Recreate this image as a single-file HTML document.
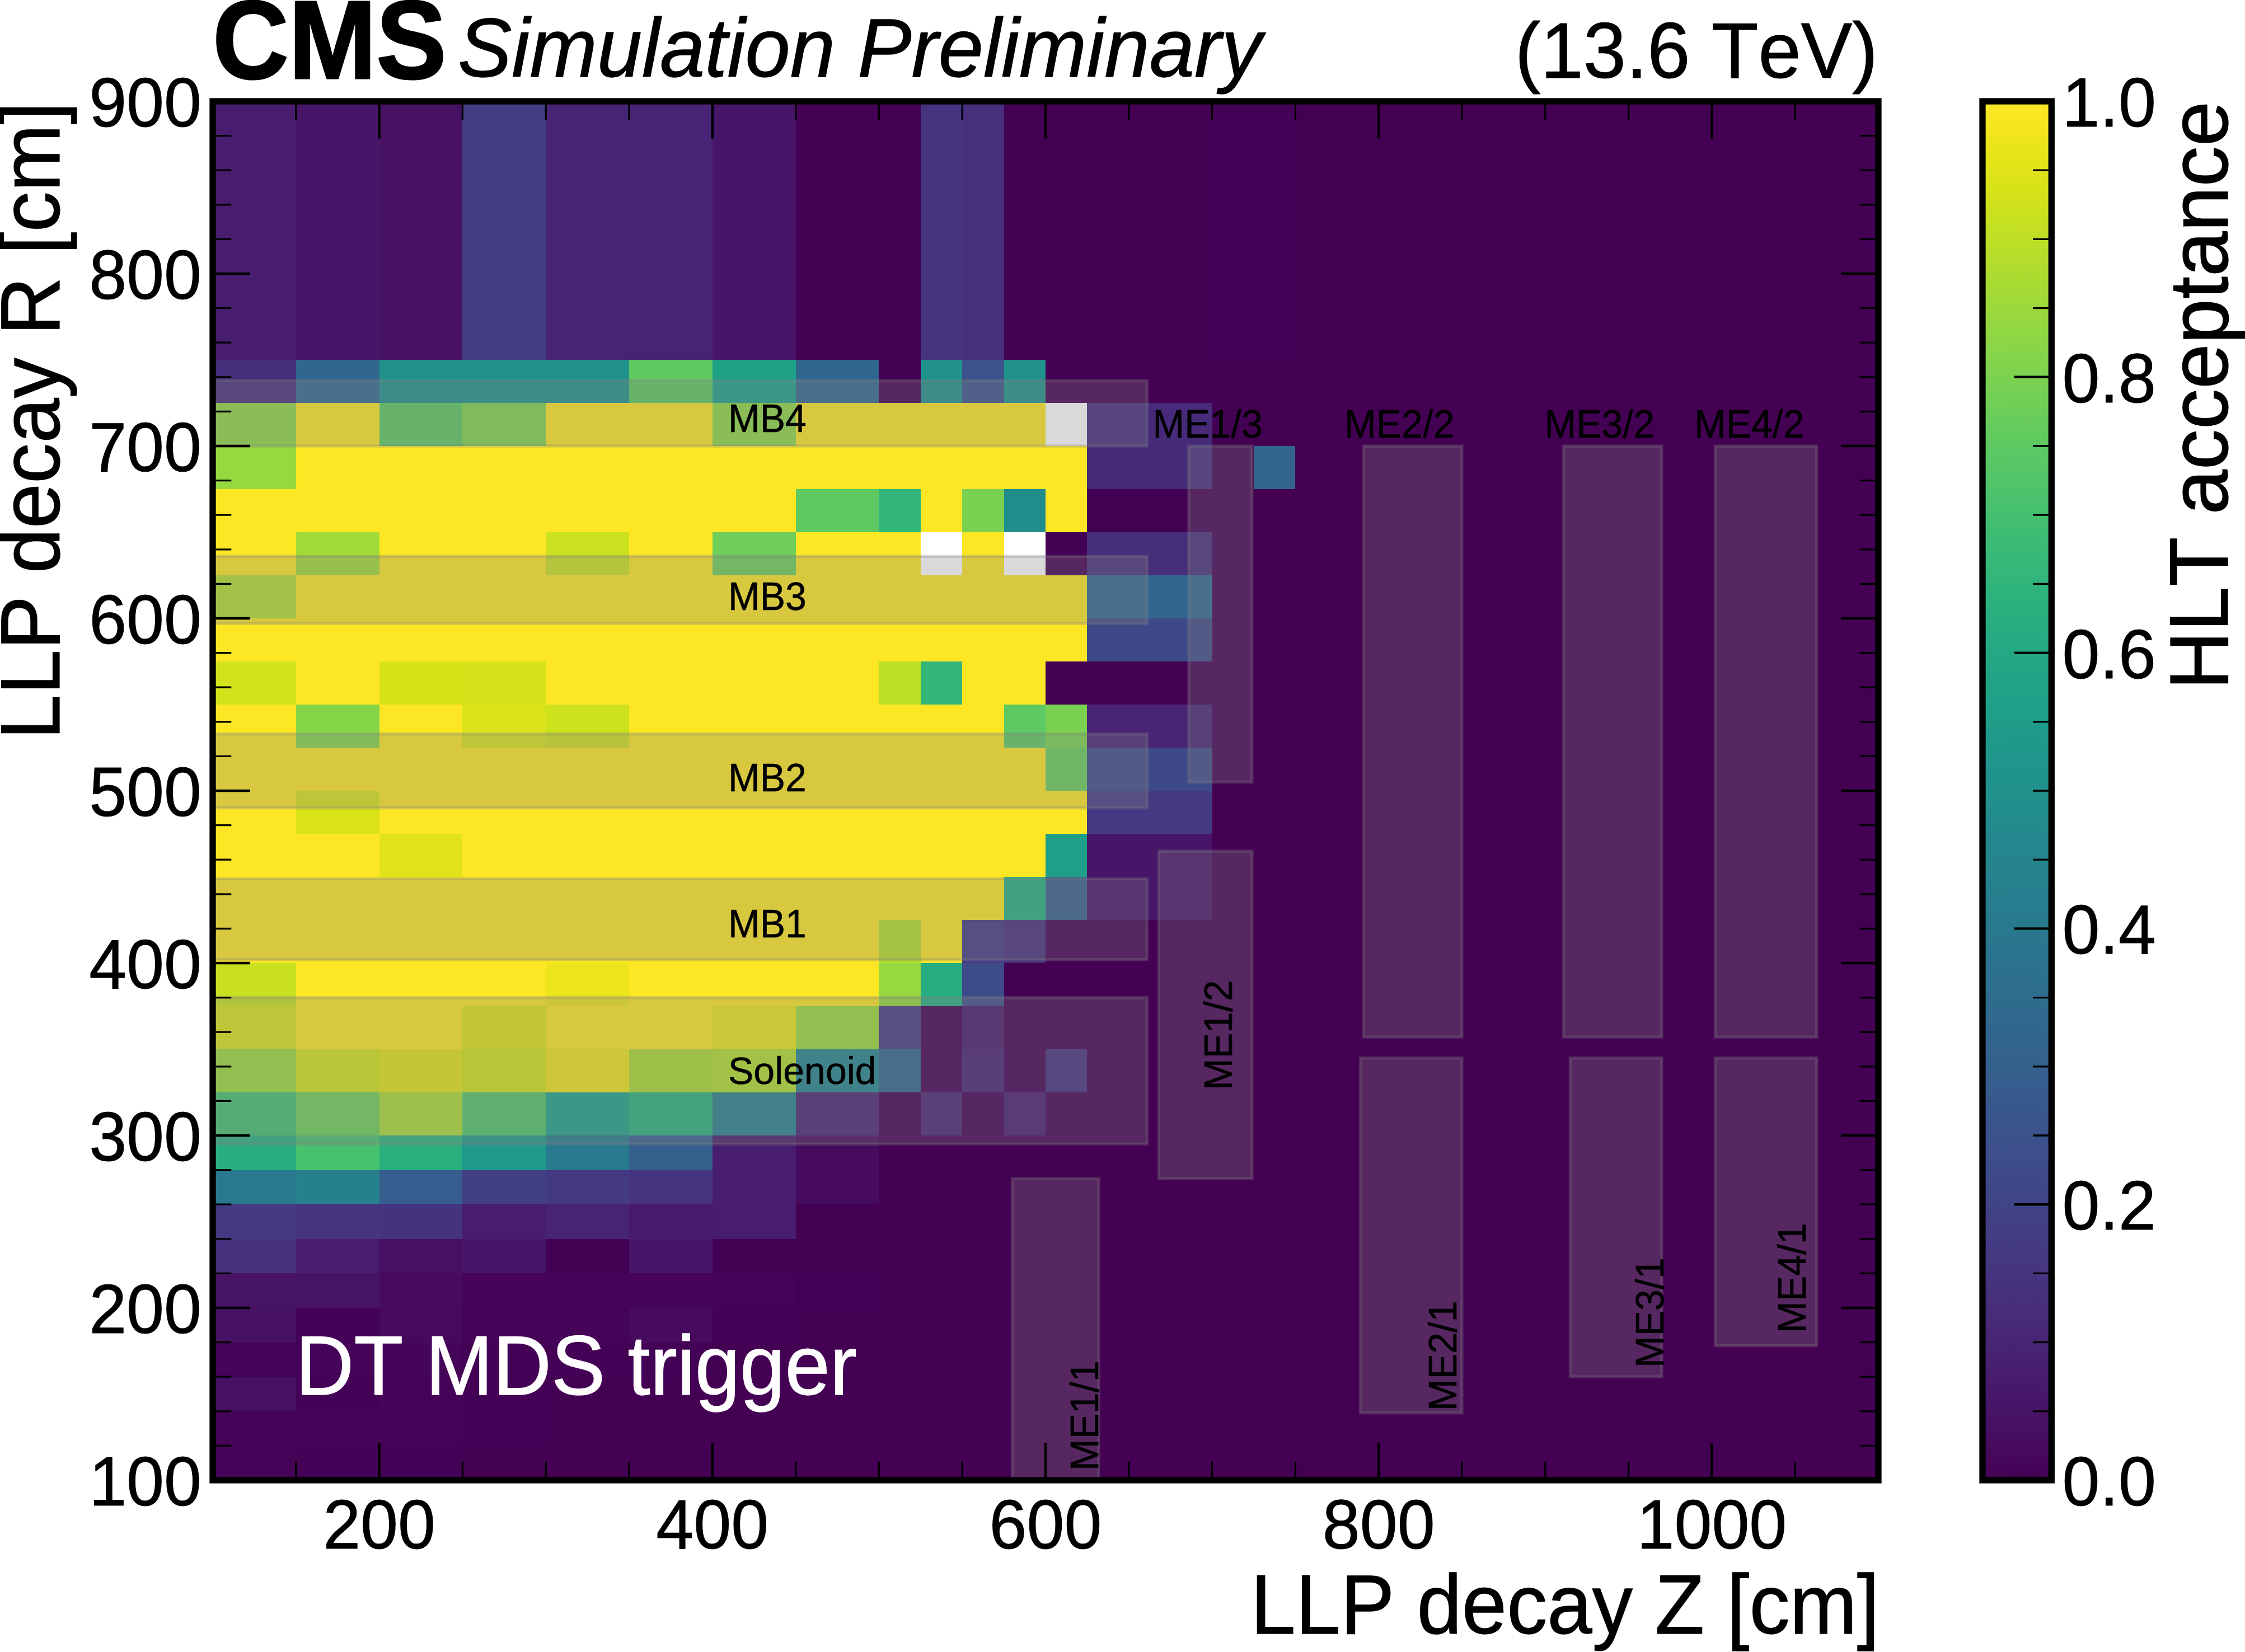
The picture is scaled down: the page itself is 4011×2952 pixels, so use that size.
<!DOCTYPE html><html><head><meta charset="utf-8"><title>chart</title><style>html,body{margin:0;padding:0;background:#fff}svg{display:block}text{font-family:"Liberation Sans",sans-serif;fill:#000;stroke:#000;stroke-linejoin:round;font-kerning:none}</style></head><body>
<svg width="4011" height="2952" viewBox="0 0 4011 2952">
<defs><clipPath id="ax"><rect x="380" y="181" width="2976" height="2464"/></clipPath>
<linearGradient id="cb" x1="0" y1="0" x2="0" y2="1"><stop offset="0.0000" stop-color="#fde725"/><stop offset="0.0156" stop-color="#f6e620"/><stop offset="0.0312" stop-color="#ece51b"/><stop offset="0.0469" stop-color="#e2e418"/><stop offset="0.0625" stop-color="#d8e219"/><stop offset="0.0781" stop-color="#cde11d"/><stop offset="0.0938" stop-color="#c2df23"/><stop offset="0.1094" stop-color="#b8de29"/><stop offset="0.1250" stop-color="#addc30"/><stop offset="0.1406" stop-color="#a2da37"/><stop offset="0.1562" stop-color="#98d83e"/><stop offset="0.1719" stop-color="#8ed645"/><stop offset="0.1875" stop-color="#84d44b"/><stop offset="0.2031" stop-color="#7ad151"/><stop offset="0.2188" stop-color="#70cf57"/><stop offset="0.2344" stop-color="#67cc5c"/><stop offset="0.2500" stop-color="#5ec962"/><stop offset="0.2656" stop-color="#56c667"/><stop offset="0.2812" stop-color="#4ec36b"/><stop offset="0.2969" stop-color="#46c06f"/><stop offset="0.3125" stop-color="#3fbc73"/><stop offset="0.3281" stop-color="#38b977"/><stop offset="0.3438" stop-color="#32b67a"/><stop offset="0.3594" stop-color="#2db27d"/><stop offset="0.3750" stop-color="#28ae80"/><stop offset="0.3906" stop-color="#25ab82"/><stop offset="0.4062" stop-color="#22a785"/><stop offset="0.4219" stop-color="#20a386"/><stop offset="0.4375" stop-color="#1fa088"/><stop offset="0.4531" stop-color="#1e9c89"/><stop offset="0.4688" stop-color="#1f988b"/><stop offset="0.4844" stop-color="#1f948c"/><stop offset="0.5000" stop-color="#21918c"/><stop offset="0.5156" stop-color="#228d8d"/><stop offset="0.5312" stop-color="#23898e"/><stop offset="0.5469" stop-color="#25858e"/><stop offset="0.5625" stop-color="#26828e"/><stop offset="0.5781" stop-color="#277e8e"/><stop offset="0.5938" stop-color="#297a8e"/><stop offset="0.6094" stop-color="#2a768e"/><stop offset="0.6250" stop-color="#2c728e"/><stop offset="0.6406" stop-color="#2e6f8e"/><stop offset="0.6562" stop-color="#2f6b8e"/><stop offset="0.6719" stop-color="#31678e"/><stop offset="0.6875" stop-color="#33638d"/><stop offset="0.7031" stop-color="#355f8d"/><stop offset="0.7188" stop-color="#375b8d"/><stop offset="0.7344" stop-color="#39568c"/><stop offset="0.7500" stop-color="#3b528b"/><stop offset="0.7656" stop-color="#3d4e8a"/><stop offset="0.7812" stop-color="#3e4989"/><stop offset="0.7969" stop-color="#404588"/><stop offset="0.8125" stop-color="#424086"/><stop offset="0.8281" stop-color="#443b84"/><stop offset="0.8438" stop-color="#453781"/><stop offset="0.8594" stop-color="#46327e"/><stop offset="0.8750" stop-color="#472d7b"/><stop offset="0.8906" stop-color="#482878"/><stop offset="0.9062" stop-color="#482374"/><stop offset="0.9219" stop-color="#481d6f"/><stop offset="0.9375" stop-color="#48186a"/><stop offset="0.9531" stop-color="#471365"/><stop offset="0.9688" stop-color="#470d60"/><stop offset="0.9844" stop-color="#46075a"/><stop offset="1.0000" stop-color="#440154"/></linearGradient></defs>
<rect width="4011" height="2952" fill="#fff"/>
<g clip-path="url(#ax)" shape-rendering="crispEdges">
<rect x="380" y="181" width="2976" height="2464" fill="#440154"/>
<rect x="380.0" y="181.0" width="148.8" height="462.0" fill="#481d6f"/>
<rect x="528.8" y="181.0" width="148.8" height="462.0" fill="#481668"/>
<rect x="677.6" y="181.0" width="148.8" height="462.0" fill="#471164"/>
<rect x="826.4" y="181.0" width="148.8" height="462.0" fill="#433e85"/>
<rect x="975.2" y="181.0" width="148.8" height="462.0" fill="#482475"/>
<rect x="1124.0" y="181.0" width="148.8" height="462.0" fill="#482475"/>
<rect x="1272.8" y="181.0" width="148.8" height="462.0" fill="#481668"/>
<rect x="1644.8" y="181.0" width="74.4" height="462.0" fill="#463480"/>
<rect x="1719.2" y="181.0" width="74.4" height="462.0" fill="#472f7d"/>
<rect x="2165.6" y="181.0" width="74.4" height="462.0" fill="#440256"/>
<rect x="2240.0" y="181.0" width="74.4" height="462.0" fill="#440256"/>
<rect x="380.0" y="643.0" width="148.8" height="77.0" fill="#472e7c"/>
<rect x="528.8" y="643.0" width="148.8" height="77.0" fill="#31678e"/>
<rect x="677.6" y="643.0" width="148.8" height="77.0" fill="#21918c"/>
<rect x="826.4" y="643.0" width="148.8" height="77.0" fill="#21918c"/>
<rect x="975.2" y="643.0" width="148.8" height="77.0" fill="#21918c"/>
<rect x="1124.0" y="643.0" width="148.8" height="77.0" fill="#5ec962"/>
<rect x="1272.8" y="643.0" width="148.8" height="77.0" fill="#1fa188"/>
<rect x="1421.6" y="643.0" width="148.8" height="77.0" fill="#31678e"/>
<rect x="1644.8" y="643.0" width="74.4" height="77.0" fill="#21918c"/>
<rect x="1719.2" y="643.0" width="74.4" height="77.0" fill="#3b528b"/>
<rect x="1793.6" y="643.0" width="74.4" height="77.0" fill="#21918c"/>
<rect x="380.0" y="720.0" width="148.8" height="77.0" fill="#8ed645"/>
<rect x="528.8" y="720.0" width="148.8" height="77.0" fill="#fde725"/>
<rect x="677.6" y="720.0" width="148.8" height="77.0" fill="#5ec962"/>
<rect x="826.4" y="720.0" width="148.8" height="77.0" fill="#81d34d"/>
<rect x="975.2" y="720.0" width="148.8" height="77.0" fill="#fde725"/>
<rect x="1124.0" y="720.0" width="148.8" height="77.0" fill="#fde725"/>
<rect x="1272.8" y="720.0" width="148.8" height="77.0" fill="#8ed645"/>
<rect x="1421.6" y="720.0" width="148.8" height="77.0" fill="#fde725"/>
<rect x="1570.4" y="720.0" width="74.4" height="77.0" fill="#fde725"/>
<rect x="1644.8" y="720.0" width="74.4" height="77.0" fill="#fde725"/>
<rect x="1719.2" y="720.0" width="74.4" height="77.0" fill="#fde725"/>
<rect x="1793.6" y="720.0" width="74.4" height="77.0" fill="#fde725"/>
<rect x="1868.0" y="720.0" width="74.4" height="77.0" fill="#ffffff"/>
<rect x="1942.4" y="720.0" width="223.2" height="77.0" fill="#472a7a"/>
<rect x="380.0" y="797.0" width="148.8" height="77.0" fill="#95d840"/>
<rect x="528.8" y="797.0" width="148.8" height="77.0" fill="#fde725"/>
<rect x="677.6" y="797.0" width="148.8" height="77.0" fill="#fde725"/>
<rect x="826.4" y="797.0" width="148.8" height="77.0" fill="#fde725"/>
<rect x="975.2" y="797.0" width="148.8" height="77.0" fill="#fde725"/>
<rect x="1124.0" y="797.0" width="148.8" height="77.0" fill="#fde725"/>
<rect x="1272.8" y="797.0" width="148.8" height="77.0" fill="#fde725"/>
<rect x="1421.6" y="797.0" width="148.8" height="77.0" fill="#fde725"/>
<rect x="1570.4" y="797.0" width="74.4" height="77.0" fill="#fde725"/>
<rect x="1644.8" y="797.0" width="74.4" height="77.0" fill="#fde725"/>
<rect x="1719.2" y="797.0" width="74.4" height="77.0" fill="#fde725"/>
<rect x="1793.6" y="797.0" width="74.4" height="77.0" fill="#fde725"/>
<rect x="1868.0" y="797.0" width="74.4" height="77.0" fill="#fde725"/>
<rect x="1942.4" y="797.0" width="223.2" height="77.0" fill="#472a7a"/>
<rect x="2240.0" y="797.0" width="74.4" height="77.0" fill="#32648e"/>
<rect x="380.0" y="874.0" width="148.8" height="77.0" fill="#fde725"/>
<rect x="528.8" y="874.0" width="148.8" height="77.0" fill="#fde725"/>
<rect x="677.6" y="874.0" width="148.8" height="77.0" fill="#fde725"/>
<rect x="826.4" y="874.0" width="148.8" height="77.0" fill="#fde725"/>
<rect x="975.2" y="874.0" width="148.8" height="77.0" fill="#fde725"/>
<rect x="1124.0" y="874.0" width="148.8" height="77.0" fill="#fde725"/>
<rect x="1272.8" y="874.0" width="148.8" height="77.0" fill="#fde725"/>
<rect x="1421.6" y="874.0" width="148.8" height="77.0" fill="#5ec962"/>
<rect x="1570.4" y="874.0" width="74.4" height="77.0" fill="#32b67a"/>
<rect x="1644.8" y="874.0" width="74.4" height="77.0" fill="#fde725"/>
<rect x="1719.2" y="874.0" width="74.4" height="77.0" fill="#7ad151"/>
<rect x="1793.6" y="874.0" width="74.4" height="77.0" fill="#218e8d"/>
<rect x="1868.0" y="874.0" width="74.4" height="77.0" fill="#fde725"/>
<rect x="380.0" y="951.0" width="148.8" height="77.0" fill="#fde725"/>
<rect x="528.8" y="951.0" width="148.8" height="77.0" fill="#a2da37"/>
<rect x="677.6" y="951.0" width="148.8" height="77.0" fill="#fde725"/>
<rect x="826.4" y="951.0" width="148.8" height="77.0" fill="#fde725"/>
<rect x="975.2" y="951.0" width="148.8" height="77.0" fill="#cae11f"/>
<rect x="1124.0" y="951.0" width="148.8" height="77.0" fill="#fde725"/>
<rect x="1272.8" y="951.0" width="148.8" height="77.0" fill="#6ece58"/>
<rect x="1421.6" y="951.0" width="148.8" height="77.0" fill="#fde725"/>
<rect x="1570.4" y="951.0" width="74.4" height="77.0" fill="#fde725"/>
<rect x="1644.8" y="951.0" width="74.4" height="77.0" fill="#ffffff"/>
<rect x="1719.2" y="951.0" width="74.4" height="77.0" fill="#fde725"/>
<rect x="1793.6" y="951.0" width="74.4" height="77.0" fill="#ffffff"/>
<rect x="1942.4" y="951.0" width="223.2" height="77.0" fill="#472e7c"/>
<rect x="380.0" y="1028.0" width="148.8" height="77.0" fill="#b0dd2f"/>
<rect x="528.8" y="1028.0" width="148.8" height="77.0" fill="#fde725"/>
<rect x="677.6" y="1028.0" width="148.8" height="77.0" fill="#fde725"/>
<rect x="826.4" y="1028.0" width="148.8" height="77.0" fill="#fde725"/>
<rect x="975.2" y="1028.0" width="148.8" height="77.0" fill="#fde725"/>
<rect x="1124.0" y="1028.0" width="148.8" height="77.0" fill="#fde725"/>
<rect x="1272.8" y="1028.0" width="148.8" height="77.0" fill="#fde725"/>
<rect x="1421.6" y="1028.0" width="148.8" height="77.0" fill="#fde725"/>
<rect x="1570.4" y="1028.0" width="74.4" height="77.0" fill="#fde725"/>
<rect x="1644.8" y="1028.0" width="74.4" height="77.0" fill="#fde725"/>
<rect x="1719.2" y="1028.0" width="74.4" height="77.0" fill="#fde725"/>
<rect x="1793.6" y="1028.0" width="74.4" height="77.0" fill="#fde725"/>
<rect x="1868.0" y="1028.0" width="74.4" height="77.0" fill="#fde725"/>
<rect x="1942.4" y="1028.0" width="223.2" height="77.0" fill="#31678e"/>
<rect x="380.0" y="1105.0" width="148.8" height="77.0" fill="#fde725"/>
<rect x="528.8" y="1105.0" width="148.8" height="77.0" fill="#fde725"/>
<rect x="677.6" y="1105.0" width="148.8" height="77.0" fill="#fde725"/>
<rect x="826.4" y="1105.0" width="148.8" height="77.0" fill="#fde725"/>
<rect x="975.2" y="1105.0" width="148.8" height="77.0" fill="#fde725"/>
<rect x="1124.0" y="1105.0" width="148.8" height="77.0" fill="#fde725"/>
<rect x="1272.8" y="1105.0" width="148.8" height="77.0" fill="#fde725"/>
<rect x="1421.6" y="1105.0" width="148.8" height="77.0" fill="#fde725"/>
<rect x="1570.4" y="1105.0" width="74.4" height="77.0" fill="#fde725"/>
<rect x="1644.8" y="1105.0" width="74.4" height="77.0" fill="#fde725"/>
<rect x="1719.2" y="1105.0" width="74.4" height="77.0" fill="#fde725"/>
<rect x="1793.6" y="1105.0" width="74.4" height="77.0" fill="#fde725"/>
<rect x="1868.0" y="1105.0" width="74.4" height="77.0" fill="#fde725"/>
<rect x="1942.4" y="1105.0" width="223.2" height="77.0" fill="#3e4989"/>
<rect x="380.0" y="1182.0" width="148.8" height="77.0" fill="#d2e21b"/>
<rect x="528.8" y="1182.0" width="148.8" height="77.0" fill="#fde725"/>
<rect x="677.6" y="1182.0" width="148.8" height="77.0" fill="#d8e219"/>
<rect x="826.4" y="1182.0" width="148.8" height="77.0" fill="#d5e21a"/>
<rect x="975.2" y="1182.0" width="148.8" height="77.0" fill="#fde725"/>
<rect x="1124.0" y="1182.0" width="148.8" height="77.0" fill="#fde725"/>
<rect x="1272.8" y="1182.0" width="148.8" height="77.0" fill="#fde725"/>
<rect x="1421.6" y="1182.0" width="148.8" height="77.0" fill="#fde725"/>
<rect x="1570.4" y="1182.0" width="74.4" height="77.0" fill="#bddf26"/>
<rect x="1644.8" y="1182.0" width="74.4" height="77.0" fill="#32b67a"/>
<rect x="1719.2" y="1182.0" width="74.4" height="77.0" fill="#fde725"/>
<rect x="1793.6" y="1182.0" width="74.4" height="77.0" fill="#fde725"/>
<rect x="380.0" y="1259.0" width="148.8" height="77.0" fill="#fde725"/>
<rect x="528.8" y="1259.0" width="148.8" height="77.0" fill="#86d549"/>
<rect x="677.6" y="1259.0" width="148.8" height="77.0" fill="#fde725"/>
<rect x="826.4" y="1259.0" width="148.8" height="77.0" fill="#dae319"/>
<rect x="975.2" y="1259.0" width="148.8" height="77.0" fill="#cde11d"/>
<rect x="1124.0" y="1259.0" width="148.8" height="77.0" fill="#fde725"/>
<rect x="1272.8" y="1259.0" width="148.8" height="77.0" fill="#fde725"/>
<rect x="1421.6" y="1259.0" width="148.8" height="77.0" fill="#fde725"/>
<rect x="1570.4" y="1259.0" width="74.4" height="77.0" fill="#fde725"/>
<rect x="1644.8" y="1259.0" width="74.4" height="77.0" fill="#fde725"/>
<rect x="1719.2" y="1259.0" width="74.4" height="77.0" fill="#fde725"/>
<rect x="1793.6" y="1259.0" width="74.4" height="77.0" fill="#5ec962"/>
<rect x="1868.0" y="1259.0" width="74.4" height="77.0" fill="#7ad151"/>
<rect x="1942.4" y="1259.0" width="223.2" height="77.0" fill="#482475"/>
<rect x="380.0" y="1336.0" width="148.8" height="77.0" fill="#fde725"/>
<rect x="528.8" y="1336.0" width="148.8" height="77.0" fill="#fde725"/>
<rect x="677.6" y="1336.0" width="148.8" height="77.0" fill="#fde725"/>
<rect x="826.4" y="1336.0" width="148.8" height="77.0" fill="#fde725"/>
<rect x="975.2" y="1336.0" width="148.8" height="77.0" fill="#fde725"/>
<rect x="1124.0" y="1336.0" width="148.8" height="77.0" fill="#fde725"/>
<rect x="1272.8" y="1336.0" width="148.8" height="77.0" fill="#fde725"/>
<rect x="1421.6" y="1336.0" width="148.8" height="77.0" fill="#fde725"/>
<rect x="1570.4" y="1336.0" width="74.4" height="77.0" fill="#fde725"/>
<rect x="1644.8" y="1336.0" width="74.4" height="77.0" fill="#fde725"/>
<rect x="1719.2" y="1336.0" width="74.4" height="77.0" fill="#fde725"/>
<rect x="1793.6" y="1336.0" width="74.4" height="77.0" fill="#fde725"/>
<rect x="1868.0" y="1336.0" width="74.4" height="77.0" fill="#69cd5b"/>
<rect x="1942.4" y="1336.0" width="223.2" height="77.0" fill="#3e4989"/>
<rect x="380.0" y="1413.0" width="148.8" height="77.0" fill="#fde725"/>
<rect x="528.8" y="1413.0" width="148.8" height="77.0" fill="#dae319"/>
<rect x="677.6" y="1413.0" width="148.8" height="77.0" fill="#fde725"/>
<rect x="826.4" y="1413.0" width="148.8" height="77.0" fill="#fde725"/>
<rect x="975.2" y="1413.0" width="148.8" height="77.0" fill="#fde725"/>
<rect x="1124.0" y="1413.0" width="148.8" height="77.0" fill="#fde725"/>
<rect x="1272.8" y="1413.0" width="148.8" height="77.0" fill="#fde725"/>
<rect x="1421.6" y="1413.0" width="148.8" height="77.0" fill="#fde725"/>
<rect x="1570.4" y="1413.0" width="74.4" height="77.0" fill="#fde725"/>
<rect x="1644.8" y="1413.0" width="74.4" height="77.0" fill="#fde725"/>
<rect x="1719.2" y="1413.0" width="74.4" height="77.0" fill="#fde725"/>
<rect x="1793.6" y="1413.0" width="74.4" height="77.0" fill="#fde725"/>
<rect x="1868.0" y="1413.0" width="74.4" height="77.0" fill="#fde725"/>
<rect x="1942.4" y="1413.0" width="223.2" height="77.0" fill="#443a83"/>
<rect x="380.0" y="1490.0" width="148.8" height="77.0" fill="#fde725"/>
<rect x="528.8" y="1490.0" width="148.8" height="77.0" fill="#fde725"/>
<rect x="677.6" y="1490.0" width="148.8" height="77.0" fill="#dfe318"/>
<rect x="826.4" y="1490.0" width="148.8" height="77.0" fill="#fde725"/>
<rect x="975.2" y="1490.0" width="148.8" height="77.0" fill="#fde725"/>
<rect x="1124.0" y="1490.0" width="148.8" height="77.0" fill="#fde725"/>
<rect x="1272.8" y="1490.0" width="148.8" height="77.0" fill="#fde725"/>
<rect x="1421.6" y="1490.0" width="148.8" height="77.0" fill="#fde725"/>
<rect x="1570.4" y="1490.0" width="74.4" height="77.0" fill="#fde725"/>
<rect x="1644.8" y="1490.0" width="74.4" height="77.0" fill="#fde725"/>
<rect x="1719.2" y="1490.0" width="74.4" height="77.0" fill="#fde725"/>
<rect x="1793.6" y="1490.0" width="74.4" height="77.0" fill="#fde725"/>
<rect x="1868.0" y="1490.0" width="74.4" height="77.0" fill="#1f9f88"/>
<rect x="1942.4" y="1490.0" width="223.2" height="77.0" fill="#481668"/>
<rect x="380.0" y="1567.0" width="148.8" height="77.0" fill="#fde725"/>
<rect x="528.8" y="1567.0" width="148.8" height="77.0" fill="#fde725"/>
<rect x="677.6" y="1567.0" width="148.8" height="77.0" fill="#fde725"/>
<rect x="826.4" y="1567.0" width="148.8" height="77.0" fill="#fde725"/>
<rect x="975.2" y="1567.0" width="148.8" height="77.0" fill="#fde725"/>
<rect x="1124.0" y="1567.0" width="148.8" height="77.0" fill="#fde725"/>
<rect x="1272.8" y="1567.0" width="148.8" height="77.0" fill="#fde725"/>
<rect x="1421.6" y="1567.0" width="148.8" height="77.0" fill="#fde725"/>
<rect x="1570.4" y="1567.0" width="74.4" height="77.0" fill="#fde725"/>
<rect x="1644.8" y="1567.0" width="74.4" height="77.0" fill="#fde725"/>
<rect x="1719.2" y="1567.0" width="74.4" height="77.0" fill="#fde725"/>
<rect x="1793.6" y="1567.0" width="74.4" height="77.0" fill="#29af7f"/>
<rect x="1868.0" y="1567.0" width="74.4" height="77.0" fill="#355f8d"/>
<rect x="1942.4" y="1567.0" width="223.2" height="77.0" fill="#481769"/>
<rect x="380.0" y="1644.0" width="148.8" height="77.0" fill="#fde725"/>
<rect x="528.8" y="1644.0" width="148.8" height="77.0" fill="#fde725"/>
<rect x="677.6" y="1644.0" width="148.8" height="77.0" fill="#fde725"/>
<rect x="826.4" y="1644.0" width="148.8" height="77.0" fill="#fde725"/>
<rect x="975.2" y="1644.0" width="148.8" height="77.0" fill="#fde725"/>
<rect x="1124.0" y="1644.0" width="148.8" height="77.0" fill="#fde725"/>
<rect x="1272.8" y="1644.0" width="148.8" height="77.0" fill="#fde725"/>
<rect x="1421.6" y="1644.0" width="148.8" height="77.0" fill="#fde725"/>
<rect x="1570.4" y="1644.0" width="74.4" height="77.0" fill="#b5de2b"/>
<rect x="1644.8" y="1644.0" width="74.4" height="77.0" fill="#fde725"/>
<rect x="1719.2" y="1644.0" width="74.4" height="77.0" fill="#443a83"/>
<rect x="1793.6" y="1644.0" width="74.4" height="77.0" fill="#472e7c"/>
<rect x="380.0" y="1721.0" width="148.8" height="77.0" fill="#c8e020"/>
<rect x="528.8" y="1721.0" width="148.8" height="77.0" fill="#fde725"/>
<rect x="677.6" y="1721.0" width="148.8" height="77.0" fill="#fde725"/>
<rect x="826.4" y="1721.0" width="148.8" height="77.0" fill="#fde725"/>
<rect x="975.2" y="1721.0" width="148.8" height="77.0" fill="#ece51b"/>
<rect x="1124.0" y="1721.0" width="148.8" height="77.0" fill="#fde725"/>
<rect x="1272.8" y="1721.0" width="148.8" height="77.0" fill="#fde725"/>
<rect x="1421.6" y="1721.0" width="148.8" height="77.0" fill="#fde725"/>
<rect x="1570.4" y="1721.0" width="74.4" height="77.0" fill="#95d840"/>
<rect x="1644.8" y="1721.0" width="74.4" height="77.0" fill="#26ad81"/>
<rect x="1719.2" y="1721.0" width="74.4" height="77.0" fill="#3e4c8a"/>
<rect x="380.0" y="1798.0" width="148.8" height="77.0" fill="#d8e219"/>
<rect x="528.8" y="1798.0" width="148.8" height="77.0" fill="#fde725"/>
<rect x="677.6" y="1798.0" width="148.8" height="77.0" fill="#fde725"/>
<rect x="826.4" y="1798.0" width="148.8" height="77.0" fill="#dfe318"/>
<rect x="975.2" y="1798.0" width="148.8" height="77.0" fill="#fde725"/>
<rect x="1124.0" y="1798.0" width="148.8" height="77.0" fill="#fde725"/>
<rect x="1272.8" y="1798.0" width="148.8" height="77.0" fill="#eae51a"/>
<rect x="1421.6" y="1798.0" width="148.8" height="77.0" fill="#9bd93c"/>
<rect x="1570.4" y="1798.0" width="74.4" height="77.0" fill="#443a83"/>
<rect x="1719.2" y="1798.0" width="74.4" height="77.0" fill="#481a6c"/>
<rect x="380.0" y="1875.0" width="148.8" height="77.0" fill="#9bd93c"/>
<rect x="528.8" y="1875.0" width="148.8" height="77.0" fill="#d5e21a"/>
<rect x="677.6" y="1875.0" width="148.8" height="77.0" fill="#e2e418"/>
<rect x="826.4" y="1875.0" width="148.8" height="77.0" fill="#d2e21b"/>
<rect x="975.2" y="1875.0" width="148.8" height="77.0" fill="#efe51c"/>
<rect x="1124.0" y="1875.0" width="148.8" height="77.0" fill="#addc30"/>
<rect x="1272.8" y="1875.0" width="148.8" height="77.0" fill="#b0dd2f"/>
<rect x="1421.6" y="1875.0" width="148.8" height="77.0" fill="#25848e"/>
<rect x="1570.4" y="1875.0" width="74.4" height="77.0" fill="#32648e"/>
<rect x="1719.2" y="1875.0" width="74.4" height="77.0" fill="#482173"/>
<rect x="1868.0" y="1875.0" width="74.4" height="77.0" fill="#46307e"/>
<rect x="380.0" y="1952.0" width="148.8" height="77.0" fill="#44bf70"/>
<rect x="528.8" y="1952.0" width="148.8" height="77.0" fill="#6ece58"/>
<rect x="677.6" y="1952.0" width="148.8" height="77.0" fill="#a8db34"/>
<rect x="826.4" y="1952.0" width="148.8" height="77.0" fill="#52c569"/>
<rect x="975.2" y="1952.0" width="148.8" height="77.0" fill="#1fa188"/>
<rect x="1124.0" y="1952.0" width="148.8" height="77.0" fill="#2ab07f"/>
<rect x="1272.8" y="1952.0" width="148.8" height="77.0" fill="#27808e"/>
<rect x="1421.6" y="1952.0" width="148.8" height="77.0" fill="#482475"/>
<rect x="1644.8" y="1952.0" width="74.4" height="77.0" fill="#482475"/>
<rect x="1793.6" y="1952.0" width="74.4" height="77.0" fill="#481f70"/>
<rect x="380.0" y="2029.0" width="148.8" height="61.6" fill="#29af7f"/>
<rect x="528.8" y="2029.0" width="148.8" height="61.6" fill="#48c16e"/>
<rect x="677.6" y="2029.0" width="148.8" height="61.6" fill="#2ab07f"/>
<rect x="826.4" y="2029.0" width="148.8" height="61.6" fill="#1f9a8a"/>
<rect x="975.2" y="2029.0" width="148.8" height="61.6" fill="#297a8e"/>
<rect x="1124.0" y="2029.0" width="148.8" height="61.6" fill="#355f8d"/>
<rect x="1272.8" y="2029.0" width="148.8" height="61.6" fill="#481c6e"/>
<rect x="1421.6" y="2029.0" width="148.8" height="61.6" fill="#460b5e"/>
<rect x="380.0" y="2090.6" width="148.8" height="61.6" fill="#2a788e"/>
<rect x="528.8" y="2090.6" width="148.8" height="61.6" fill="#27808e"/>
<rect x="677.6" y="2090.6" width="148.8" height="61.6" fill="#365d8d"/>
<rect x="826.4" y="2090.6" width="148.8" height="61.6" fill="#423f85"/>
<rect x="975.2" y="2090.6" width="148.8" height="61.6" fill="#443983"/>
<rect x="1124.0" y="2090.6" width="148.8" height="61.6" fill="#463480"/>
<rect x="1272.8" y="2090.6" width="148.8" height="61.6" fill="#481c6e"/>
<rect x="1421.6" y="2090.6" width="148.8" height="61.6" fill="#460b5e"/>
<rect x="380.0" y="2152.2" width="148.8" height="61.6" fill="#443a83"/>
<rect x="528.8" y="2152.2" width="148.8" height="61.6" fill="#463480"/>
<rect x="677.6" y="2152.2" width="148.8" height="61.6" fill="#46337f"/>
<rect x="826.4" y="2152.2" width="148.8" height="61.6" fill="#481d6f"/>
<rect x="975.2" y="2152.2" width="148.8" height="61.6" fill="#482475"/>
<rect x="1124.0" y="2152.2" width="148.8" height="61.6" fill="#481a6c"/>
<rect x="1272.8" y="2152.2" width="148.8" height="61.6" fill="#481c6e"/>
<rect x="380.0" y="2213.8" width="148.8" height="61.6" fill="#46307e"/>
<rect x="528.8" y="2213.8" width="148.8" height="61.6" fill="#481d6f"/>
<rect x="677.6" y="2213.8" width="148.8" height="61.6" fill="#471063"/>
<rect x="826.4" y="2213.8" width="148.8" height="61.6" fill="#481668"/>
<rect x="1124.0" y="2213.8" width="148.8" height="61.6" fill="#481668"/>
<rect x="380.0" y="2275.4" width="148.8" height="61.6" fill="#471365"/>
<rect x="528.8" y="2275.4" width="148.8" height="61.6" fill="#471365"/>
<rect x="677.6" y="2275.4" width="148.8" height="61.6" fill="#460b5e"/>
<rect x="826.4" y="2275.4" width="148.8" height="61.6" fill="#450457"/>
<rect x="975.2" y="2275.4" width="148.8" height="61.6" fill="#450457"/>
<rect x="1124.0" y="2275.4" width="148.8" height="61.6" fill="#450457"/>
<rect x="1272.8" y="2275.4" width="148.8" height="61.6" fill="#450457"/>
<rect x="1421.6" y="2275.4" width="148.8" height="61.6" fill="#440256"/>
<rect x="380.0" y="2337.0" width="148.8" height="61.6" fill="#471164"/>
<rect x="528.8" y="2337.0" width="148.8" height="61.6" fill="#440256"/>
<rect x="677.6" y="2337.0" width="148.8" height="61.6" fill="#460a5d"/>
<rect x="826.4" y="2337.0" width="148.8" height="61.6" fill="#450457"/>
<rect x="975.2" y="2337.0" width="148.8" height="61.6" fill="#450457"/>
<rect x="1124.0" y="2337.0" width="148.8" height="61.6" fill="#460b5e"/>
<rect x="1272.8" y="2337.0" width="148.8" height="61.6" fill="#440256"/>
<rect x="380.0" y="2398.6" width="148.8" height="61.6" fill="#450457"/>
<rect x="528.8" y="2398.6" width="148.8" height="61.6" fill="#450457"/>
<rect x="677.6" y="2398.6" width="148.8" height="61.6" fill="#450559"/>
<rect x="826.4" y="2398.6" width="148.8" height="61.6" fill="#440256"/>
<rect x="975.2" y="2398.6" width="148.8" height="61.6" fill="#440256"/>
<rect x="1124.0" y="2398.6" width="148.8" height="61.6" fill="#440256"/>
<rect x="380.0" y="2460.2" width="148.8" height="61.6" fill="#471063"/>
<rect x="528.8" y="2460.2" width="148.8" height="61.6" fill="#440256"/>
<rect x="677.6" y="2460.2" width="148.8" height="61.6" fill="#450457"/>
<rect x="826.4" y="2460.2" width="148.8" height="61.6" fill="#440256"/>
<rect x="380.0" y="2521.8" width="148.8" height="61.6" fill="#450457"/>
<rect x="528.8" y="2521.8" width="148.8" height="61.6" fill="#450457"/>
<rect x="677.6" y="2521.8" width="148.8" height="61.6" fill="#450457"/>
<rect x="826.4" y="2521.8" width="148.8" height="61.6" fill="#440256"/>
<rect x="380.0" y="2583.4" width="148.8" height="61.6" fill="#450457"/>
<rect x="528.8" y="2583.4" width="148.8" height="61.6" fill="#440256"/>
<rect x="677.6" y="2583.4" width="148.8" height="61.6" fill="#440256"/>
</g>
<g clip-path="url(#ax)">
<rect x="82.4" y="1570.1" width="1967.1" height="144.8" fill="#808080" fill-opacity="0.3" stroke="#808080" stroke-opacity="0.3" stroke-width="5.5"/>
<rect x="82.4" y="1311.4" width="1967.1" height="132.4" fill="#808080" fill-opacity="0.3" stroke="#808080" stroke-opacity="0.3" stroke-width="5.5"/>
<rect x="82.4" y="994.1" width="1967.1" height="120.1" fill="#808080" fill-opacity="0.3" stroke="#808080" stroke-opacity="0.3" stroke-width="5.5"/>
<rect x="82.4" y="680.0" width="1967.1" height="117.0" fill="#808080" fill-opacity="0.3" stroke="#808080" stroke-opacity="0.3" stroke-width="5.5"/>
<rect x="82.4" y="1782.6" width="1967.1" height="261.8" fill="#808080" fill-opacity="0.3" stroke="#808080" stroke-opacity="0.3" stroke-width="5.5"/>
<rect x="1808.5" y="2106.0" width="154.8" height="569.8" fill="#808080" fill-opacity="0.3" stroke="#808080" stroke-opacity="0.3" stroke-width="5.5"/>
<rect x="2070.4" y="1520.8" width="166.7" height="585.2" fill="#808080" fill-opacity="0.3" stroke="#808080" stroke-opacity="0.3" stroke-width="5.5"/>
<rect x="2123.9" y="797.0" width="113.1" height="600.6" fill="#808080" fill-opacity="0.3" stroke="#808080" stroke-opacity="0.3" stroke-width="5.5"/>
<rect x="2430.5" y="1890.4" width="181.5" height="634.5" fill="#808080" fill-opacity="0.3" stroke="#808080" stroke-opacity="0.3" stroke-width="5.5"/>
<rect x="2436.4" y="797.0" width="175.6" height="1056.4" fill="#808080" fill-opacity="0.3" stroke="#808080" stroke-opacity="0.3" stroke-width="5.5"/>
<rect x="2805.4" y="1890.4" width="163.7" height="569.8" fill="#808080" fill-opacity="0.3" stroke="#808080" stroke-opacity="0.3" stroke-width="5.5"/>
<rect x="2793.5" y="797.0" width="175.6" height="1056.4" fill="#808080" fill-opacity="0.3" stroke="#808080" stroke-opacity="0.3" stroke-width="5.5"/>
<rect x="3064.4" y="1890.4" width="181.5" height="514.4" fill="#808080" fill-opacity="0.3" stroke="#808080" stroke-opacity="0.3" stroke-width="5.5"/>
<rect x="3064.4" y="797.0" width="181.5" height="1056.4" fill="#808080" fill-opacity="0.3" stroke="#808080" stroke-opacity="0.3" stroke-width="5.5"/>
</g>
<g stroke="#000"><line x1="528.8" y1="2645.0" x2="528.8" y2="2611.7" stroke-width="3.3"/><line x1="528.8" y1="181.0" x2="528.8" y2="214.3" stroke-width="3.3"/><line x1="677.6" y1="2645.0" x2="677.6" y2="2578.3" stroke-width="4.4"/><line x1="677.6" y1="181.0" x2="677.6" y2="247.7" stroke-width="4.4"/><line x1="826.4" y1="2645.0" x2="826.4" y2="2611.7" stroke-width="3.3"/><line x1="826.4" y1="181.0" x2="826.4" y2="214.3" stroke-width="3.3"/><line x1="975.2" y1="2645.0" x2="975.2" y2="2611.7" stroke-width="3.3"/><line x1="975.2" y1="181.0" x2="975.2" y2="214.3" stroke-width="3.3"/><line x1="1124.0" y1="2645.0" x2="1124.0" y2="2611.7" stroke-width="3.3"/><line x1="1124.0" y1="181.0" x2="1124.0" y2="214.3" stroke-width="3.3"/><line x1="1272.8" y1="2645.0" x2="1272.8" y2="2578.3" stroke-width="4.4"/><line x1="1272.8" y1="181.0" x2="1272.8" y2="247.7" stroke-width="4.4"/><line x1="1421.6" y1="2645.0" x2="1421.6" y2="2611.7" stroke-width="3.3"/><line x1="1421.6" y1="181.0" x2="1421.6" y2="214.3" stroke-width="3.3"/><line x1="1570.4" y1="2645.0" x2="1570.4" y2="2611.7" stroke-width="3.3"/><line x1="1570.4" y1="181.0" x2="1570.4" y2="214.3" stroke-width="3.3"/><line x1="1719.2" y1="2645.0" x2="1719.2" y2="2611.7" stroke-width="3.3"/><line x1="1719.2" y1="181.0" x2="1719.2" y2="214.3" stroke-width="3.3"/><line x1="1868.0" y1="2645.0" x2="1868.0" y2="2578.3" stroke-width="4.4"/><line x1="1868.0" y1="181.0" x2="1868.0" y2="247.7" stroke-width="4.4"/><line x1="2016.8" y1="2645.0" x2="2016.8" y2="2611.7" stroke-width="3.3"/><line x1="2016.8" y1="181.0" x2="2016.8" y2="214.3" stroke-width="3.3"/><line x1="2165.6" y1="2645.0" x2="2165.6" y2="2611.7" stroke-width="3.3"/><line x1="2165.6" y1="181.0" x2="2165.6" y2="214.3" stroke-width="3.3"/><line x1="2314.4" y1="2645.0" x2="2314.4" y2="2611.7" stroke-width="3.3"/><line x1="2314.4" y1="181.0" x2="2314.4" y2="214.3" stroke-width="3.3"/><line x1="2463.2" y1="2645.0" x2="2463.2" y2="2578.3" stroke-width="4.4"/><line x1="2463.2" y1="181.0" x2="2463.2" y2="247.7" stroke-width="4.4"/><line x1="2612.0" y1="2645.0" x2="2612.0" y2="2611.7" stroke-width="3.3"/><line x1="2612.0" y1="181.0" x2="2612.0" y2="214.3" stroke-width="3.3"/><line x1="2760.8" y1="2645.0" x2="2760.8" y2="2611.7" stroke-width="3.3"/><line x1="2760.8" y1="181.0" x2="2760.8" y2="214.3" stroke-width="3.3"/><line x1="2909.6" y1="2645.0" x2="2909.6" y2="2611.7" stroke-width="3.3"/><line x1="2909.6" y1="181.0" x2="2909.6" y2="214.3" stroke-width="3.3"/><line x1="3058.4" y1="2645.0" x2="3058.4" y2="2578.3" stroke-width="4.4"/><line x1="3058.4" y1="181.0" x2="3058.4" y2="247.7" stroke-width="4.4"/><line x1="3207.2" y1="2645.0" x2="3207.2" y2="2611.7" stroke-width="3.3"/><line x1="3207.2" y1="181.0" x2="3207.2" y2="214.3" stroke-width="3.3"/><line x1="380.0" y1="2583.4" x2="413.3" y2="2583.4" stroke-width="3.3"/><line x1="3356.0" y1="2583.4" x2="3322.7" y2="2583.4" stroke-width="3.3"/><line x1="380.0" y1="2521.8" x2="413.3" y2="2521.8" stroke-width="3.3"/><line x1="3356.0" y1="2521.8" x2="3322.7" y2="2521.8" stroke-width="3.3"/><line x1="380.0" y1="2460.2" x2="413.3" y2="2460.2" stroke-width="3.3"/><line x1="3356.0" y1="2460.2" x2="3322.7" y2="2460.2" stroke-width="3.3"/><line x1="380.0" y1="2398.6" x2="413.3" y2="2398.6" stroke-width="3.3"/><line x1="3356.0" y1="2398.6" x2="3322.7" y2="2398.6" stroke-width="3.3"/><line x1="380.0" y1="2337.0" x2="446.7" y2="2337.0" stroke-width="4.4"/><line x1="3356.0" y1="2337.0" x2="3289.3" y2="2337.0" stroke-width="4.4"/><line x1="380.0" y1="2275.4" x2="413.3" y2="2275.4" stroke-width="3.3"/><line x1="3356.0" y1="2275.4" x2="3322.7" y2="2275.4" stroke-width="3.3"/><line x1="380.0" y1="2213.8" x2="413.3" y2="2213.8" stroke-width="3.3"/><line x1="3356.0" y1="2213.8" x2="3322.7" y2="2213.8" stroke-width="3.3"/><line x1="380.0" y1="2152.2" x2="413.3" y2="2152.2" stroke-width="3.3"/><line x1="3356.0" y1="2152.2" x2="3322.7" y2="2152.2" stroke-width="3.3"/><line x1="380.0" y1="2090.6" x2="413.3" y2="2090.6" stroke-width="3.3"/><line x1="3356.0" y1="2090.6" x2="3322.7" y2="2090.6" stroke-width="3.3"/><line x1="380.0" y1="2029.0" x2="446.7" y2="2029.0" stroke-width="4.4"/><line x1="3356.0" y1="2029.0" x2="3289.3" y2="2029.0" stroke-width="4.4"/><line x1="380.0" y1="1967.4" x2="413.3" y2="1967.4" stroke-width="3.3"/><line x1="3356.0" y1="1967.4" x2="3322.7" y2="1967.4" stroke-width="3.3"/><line x1="380.0" y1="1905.8" x2="413.3" y2="1905.8" stroke-width="3.3"/><line x1="3356.0" y1="1905.8" x2="3322.7" y2="1905.8" stroke-width="3.3"/><line x1="380.0" y1="1844.2" x2="413.3" y2="1844.2" stroke-width="3.3"/><line x1="3356.0" y1="1844.2" x2="3322.7" y2="1844.2" stroke-width="3.3"/><line x1="380.0" y1="1782.6" x2="413.3" y2="1782.6" stroke-width="3.3"/><line x1="3356.0" y1="1782.6" x2="3322.7" y2="1782.6" stroke-width="3.3"/><line x1="380.0" y1="1721.0" x2="446.7" y2="1721.0" stroke-width="4.4"/><line x1="3356.0" y1="1721.0" x2="3289.3" y2="1721.0" stroke-width="4.4"/><line x1="380.0" y1="1659.4" x2="413.3" y2="1659.4" stroke-width="3.3"/><line x1="3356.0" y1="1659.4" x2="3322.7" y2="1659.4" stroke-width="3.3"/><line x1="380.0" y1="1597.8" x2="413.3" y2="1597.8" stroke-width="3.3"/><line x1="3356.0" y1="1597.8" x2="3322.7" y2="1597.8" stroke-width="3.3"/><line x1="380.0" y1="1536.2" x2="413.3" y2="1536.2" stroke-width="3.3"/><line x1="3356.0" y1="1536.2" x2="3322.7" y2="1536.2" stroke-width="3.3"/><line x1="380.0" y1="1474.6" x2="413.3" y2="1474.6" stroke-width="3.3"/><line x1="3356.0" y1="1474.6" x2="3322.7" y2="1474.6" stroke-width="3.3"/><line x1="380.0" y1="1413.0" x2="446.7" y2="1413.0" stroke-width="4.4"/><line x1="3356.0" y1="1413.0" x2="3289.3" y2="1413.0" stroke-width="4.4"/><line x1="380.0" y1="1351.4" x2="413.3" y2="1351.4" stroke-width="3.3"/><line x1="3356.0" y1="1351.4" x2="3322.7" y2="1351.4" stroke-width="3.3"/><line x1="380.0" y1="1289.8" x2="413.3" y2="1289.8" stroke-width="3.3"/><line x1="3356.0" y1="1289.8" x2="3322.7" y2="1289.8" stroke-width="3.3"/><line x1="380.0" y1="1228.2" x2="413.3" y2="1228.2" stroke-width="3.3"/><line x1="3356.0" y1="1228.2" x2="3322.7" y2="1228.2" stroke-width="3.3"/><line x1="380.0" y1="1166.6" x2="413.3" y2="1166.6" stroke-width="3.3"/><line x1="3356.0" y1="1166.6" x2="3322.7" y2="1166.6" stroke-width="3.3"/><line x1="380.0" y1="1105.0" x2="446.7" y2="1105.0" stroke-width="4.4"/><line x1="3356.0" y1="1105.0" x2="3289.3" y2="1105.0" stroke-width="4.4"/><line x1="380.0" y1="1043.4" x2="413.3" y2="1043.4" stroke-width="3.3"/><line x1="3356.0" y1="1043.4" x2="3322.7" y2="1043.4" stroke-width="3.3"/><line x1="380.0" y1="981.8" x2="413.3" y2="981.8" stroke-width="3.3"/><line x1="3356.0" y1="981.8" x2="3322.7" y2="981.8" stroke-width="3.3"/><line x1="380.0" y1="920.2" x2="413.3" y2="920.2" stroke-width="3.3"/><line x1="3356.0" y1="920.2" x2="3322.7" y2="920.2" stroke-width="3.3"/><line x1="380.0" y1="858.6" x2="413.3" y2="858.6" stroke-width="3.3"/><line x1="3356.0" y1="858.6" x2="3322.7" y2="858.6" stroke-width="3.3"/><line x1="380.0" y1="797.0" x2="446.7" y2="797.0" stroke-width="4.4"/><line x1="3356.0" y1="797.0" x2="3289.3" y2="797.0" stroke-width="4.4"/><line x1="380.0" y1="735.4" x2="413.3" y2="735.4" stroke-width="3.3"/><line x1="3356.0" y1="735.4" x2="3322.7" y2="735.4" stroke-width="3.3"/><line x1="380.0" y1="673.8" x2="413.3" y2="673.8" stroke-width="3.3"/><line x1="3356.0" y1="673.8" x2="3322.7" y2="673.8" stroke-width="3.3"/><line x1="380.0" y1="612.2" x2="413.3" y2="612.2" stroke-width="3.3"/><line x1="3356.0" y1="612.2" x2="3322.7" y2="612.2" stroke-width="3.3"/><line x1="380.0" y1="550.6" x2="413.3" y2="550.6" stroke-width="3.3"/><line x1="3356.0" y1="550.6" x2="3322.7" y2="550.6" stroke-width="3.3"/><line x1="380.0" y1="489.0" x2="446.7" y2="489.0" stroke-width="4.4"/><line x1="3356.0" y1="489.0" x2="3289.3" y2="489.0" stroke-width="4.4"/><line x1="380.0" y1="427.4" x2="413.3" y2="427.4" stroke-width="3.3"/><line x1="3356.0" y1="427.4" x2="3322.7" y2="427.4" stroke-width="3.3"/><line x1="380.0" y1="365.8" x2="413.3" y2="365.8" stroke-width="3.3"/><line x1="3356.0" y1="365.8" x2="3322.7" y2="365.8" stroke-width="3.3"/><line x1="380.0" y1="304.2" x2="413.3" y2="304.2" stroke-width="3.3"/><line x1="3356.0" y1="304.2" x2="3322.7" y2="304.2" stroke-width="3.3"/><line x1="380.0" y1="242.6" x2="413.3" y2="242.6" stroke-width="3.3"/><line x1="3356.0" y1="242.6" x2="3322.7" y2="242.6" stroke-width="3.3"/></g>
<rect x="380" y="181" width="2976" height="2464" fill="none" stroke="#000" stroke-width="11.3"/>
<rect x="3542" y="181" width="123.3" height="2464" fill="url(#cb)"/>
<g stroke="#000"><line x1="3665.3" y1="2521.8" x2="3632.0" y2="2521.8" stroke-width="3.3"/><line x1="3665.3" y1="2398.6" x2="3632.0" y2="2398.6" stroke-width="3.3"/><line x1="3665.3" y1="2275.4" x2="3632.0" y2="2275.4" stroke-width="3.3"/><line x1="3665.3" y1="2152.2" x2="3598.6" y2="2152.2" stroke-width="4.4"/><line x1="3665.3" y1="2029.0" x2="3632.0" y2="2029.0" stroke-width="3.3"/><line x1="3665.3" y1="1905.8" x2="3632.0" y2="1905.8" stroke-width="3.3"/><line x1="3665.3" y1="1782.6" x2="3632.0" y2="1782.6" stroke-width="3.3"/><line x1="3665.3" y1="1659.4" x2="3598.6" y2="1659.4" stroke-width="4.4"/><line x1="3665.3" y1="1536.2" x2="3632.0" y2="1536.2" stroke-width="3.3"/><line x1="3665.3" y1="1413.0" x2="3632.0" y2="1413.0" stroke-width="3.3"/><line x1="3665.3" y1="1289.8" x2="3632.0" y2="1289.8" stroke-width="3.3"/><line x1="3665.3" y1="1166.6" x2="3598.6" y2="1166.6" stroke-width="4.4"/><line x1="3665.3" y1="1043.4" x2="3632.0" y2="1043.4" stroke-width="3.3"/><line x1="3665.3" y1="920.2" x2="3632.0" y2="920.2" stroke-width="3.3"/><line x1="3665.3" y1="797.0" x2="3632.0" y2="797.0" stroke-width="3.3"/><line x1="3665.3" y1="673.8" x2="3598.6" y2="673.8" stroke-width="4.4"/><line x1="3665.3" y1="550.6" x2="3632.0" y2="550.6" stroke-width="3.3"/><line x1="3665.3" y1="427.4" x2="3632.0" y2="427.4" stroke-width="3.3"/><line x1="3665.3" y1="304.2" x2="3632.0" y2="304.2" stroke-width="3.3"/></g>
<rect x="3542" y="181" width="123.3" height="2464" fill="none" stroke="#000" stroke-width="11.3"/>
<text transform="translate(380.0,140.0) scale(1,1.06)" font-size="188.0" text-anchor="start" font-weight="bold" stroke-width="3.00">CMS</text>
<text transform="translate(818.0,136.8) scale(1,1.025)" font-size="144.4" text-anchor="start" font-style="italic" stroke-width="1.23">Simulation Preliminary</text>
<text transform="translate(3355.0,139.0) scale(1,1.03)" font-size="137.2" text-anchor="end" stroke-width="1.17">(13.6 TeV)</text>
<text transform="translate(360.0,2690.0) scale(1,1.026)" font-size="120.4" text-anchor="end" stroke-width="1.02">100</text>
<text transform="translate(360.0,2382.0) scale(1,1.026)" font-size="120.4" text-anchor="end" stroke-width="1.02">200</text>
<text transform="translate(360.0,2074.0) scale(1,1.026)" font-size="120.4" text-anchor="end" stroke-width="1.02">300</text>
<text transform="translate(360.0,1766.0) scale(1,1.026)" font-size="120.4" text-anchor="end" stroke-width="1.02">400</text>
<text transform="translate(360.0,1458.0) scale(1,1.026)" font-size="120.4" text-anchor="end" stroke-width="1.02">500</text>
<text transform="translate(360.0,1150.0) scale(1,1.026)" font-size="120.4" text-anchor="end" stroke-width="1.02">600</text>
<text transform="translate(360.0,842.0) scale(1,1.026)" font-size="120.4" text-anchor="end" stroke-width="1.02">700</text>
<text transform="translate(360.0,534.0) scale(1,1.026)" font-size="120.4" text-anchor="end" stroke-width="1.02">800</text>
<text transform="translate(360.0,226.0) scale(1,1.026)" font-size="120.4" text-anchor="end" stroke-width="1.02">900</text>
<text transform="translate(677.6,2766.5) scale(1,1.026)" font-size="120.4" text-anchor="middle" stroke-width="1.02">200</text>
<text transform="translate(1272.8,2766.5) scale(1,1.026)" font-size="120.4" text-anchor="middle" stroke-width="1.02">400</text>
<text transform="translate(1868.0,2766.5) scale(1,1.026)" font-size="120.4" text-anchor="middle" stroke-width="1.02">600</text>
<text transform="translate(2463.2,2766.5) scale(1,1.026)" font-size="120.4" text-anchor="middle" stroke-width="1.02">800</text>
<text transform="translate(3058.4,2766.5) scale(1,1.026)" font-size="120.4" text-anchor="middle" stroke-width="1.02">1000</text>
<text transform="translate(3358.0,2919.3) scale(1,1.035)" font-size="144.4" text-anchor="end" stroke-width="1.23">LLP decay Z [cm]</text>
<text transform="translate(105.9,182.0) rotate(-90) scale(1,1.035)" font-size="144.4" text-anchor="end" stroke-width="1.23">LLP decay R [cm]</text>
<text transform="translate(3684.5,2690.0) scale(1,1.026)" font-size="120.4" text-anchor="start" stroke-width="1.02">0.0</text>
<text transform="translate(3684.5,2197.2) scale(1,1.026)" font-size="120.4" text-anchor="start" stroke-width="1.02">0.2</text>
<text transform="translate(3684.5,1704.4) scale(1,1.026)" font-size="120.4" text-anchor="start" stroke-width="1.02">0.4</text>
<text transform="translate(3684.5,1211.6) scale(1,1.026)" font-size="120.4" text-anchor="start" stroke-width="1.02">0.6</text>
<text transform="translate(3684.5,718.8) scale(1,1.026)" font-size="120.4" text-anchor="start" stroke-width="1.02">0.8</text>
<text transform="translate(3684.5,226.0) scale(1,1.026)" font-size="120.4" text-anchor="start" stroke-width="1.02">1.0</text>
<text transform="translate(3979.7,181.0) rotate(-90) scale(1,1.03)" font-size="144.4" text-anchor="end" stroke-width="1.23">HLT acceptance</text>
<text transform="translate(1301.0,772.0) scale(1,1.04)" font-size="68.0" text-anchor="start" stroke-width="0.58">MB4</text>
<text transform="translate(1301.0,1090.0) scale(1,1.04)" font-size="68.0" text-anchor="start" stroke-width="0.58">MB3</text>
<text transform="translate(1301.0,1413.5) scale(1,1.04)" font-size="68.0" text-anchor="start" stroke-width="0.58">MB2</text>
<text transform="translate(1301.0,1675.0) scale(1,1.04)" font-size="68.0" text-anchor="start" stroke-width="0.58">MB1</text>
<text transform="translate(1301.0,1937.0) scale(1,1.02)" font-size="68.0" text-anchor="start" stroke-width="0.58">Solenoid</text>
<text transform="translate(2059.5,782.0) scale(1,1.04)" font-size="68.0" text-anchor="start" stroke-width="0.58">ME1/3</text>
<text transform="translate(2402.0,782.0) scale(1,1.04)" font-size="68.0" text-anchor="start" stroke-width="0.58">ME2/2</text>
<text transform="translate(2759.5,782.0) scale(1,1.04)" font-size="68.0" text-anchor="start" stroke-width="0.58">ME3/2</text>
<text transform="translate(3027.0,782.0) scale(1,1.04)" font-size="68.0" text-anchor="start" stroke-width="0.58">ME4/2</text>
<text transform="translate(1961.5,2628.0) rotate(-90) scale(1,1.04)" font-size="68.0" text-anchor="start" stroke-width="0.58">ME1/1</text>
<text transform="translate(2200.5,1948.0) rotate(-90) scale(1,1.04)" font-size="68.0" text-anchor="start" stroke-width="0.58">ME1/2</text>
<text transform="translate(2601.5,2521.0) rotate(-90) scale(1,1.04)" font-size="68.0" text-anchor="start" stroke-width="0.58">ME2/1</text>
<text transform="translate(2972.0,2444.0) rotate(-90) scale(1,1.04)" font-size="68.0" text-anchor="start" stroke-width="0.58">ME3/1</text>
<text transform="translate(3225.5,2382.0) rotate(-90) scale(1,1.04)" font-size="68.0" text-anchor="start" stroke-width="0.58">ME4/1</text>
<text transform="translate(528.0,2492.0) scale(1,1.04)" font-size="144.4" text-anchor="start" style="fill:#fff;stroke:#fff" stroke-width="1.23">DT MDS trigger</text>
</svg></body></html>
